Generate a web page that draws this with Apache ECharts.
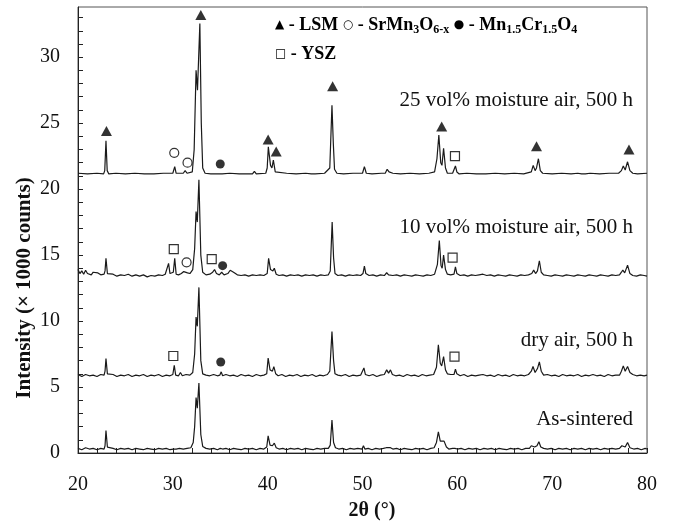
<!DOCTYPE html>
<html>
<head>
<meta charset="utf-8">
<script src="https://cdn.jsdelivr.net/npm/echarts@6/dist/echarts.min.js"></script>
<style>
  html, body { margin: 0; padding: 0; background: #fff; }
  #chart { width: 673px; height: 522px; }
</style>
</head>
<body>
<div id="chart"></div>
<script>
// ======================
// DATA (2θ in degrees, intensity in 1000 counts, traces already offset)
// ======================

const asSintered = [
  [20,0.35],[20.4,0.25],[20.8,0.4],[21.2,0.3],[21.6,0.35],[22,0.25],[22.4,0.35],[22.75,0.3],
  [22.85,0.55],[22.95,1.7],[23.1,0.45],[23.3,0.3],[23.7,0.35],[24.1,0.25],[24.5,0.35],[24.9,0.3],
  [25.3,0.35],[25.7,0.25],[26.1,0.35],[26.5,0.3],[26.9,0.25],[27.3,0.35],[27.7,0.3],[28.1,0.25],
  [28.5,0.35],[28.9,0.3],[29.3,0.35],[29.7,0.25],[30.05,0.3],[30.2,0.4],[30.35,0.3],[30.7,0.35],
  [31.1,0.3],[31.5,0.35],[31.9,0.4],[32.15,0.8],[32.3,2.0],[32.45,4.2],[32.58,3.4],[32.75,5.3],
  [32.95,1.4],[33.15,0.5],[33.5,0.35],[33.9,0.3],[34.3,0.35],[34.7,0.25],[35.0,0.35],[35.1,0.45],
  [35.25,0.3],[35.6,0.35],[36.0,0.25],[36.4,0.35],[36.8,0.3],[37.2,0.25],[37.6,0.35],[38.0,0.3],
  [38.4,0.35],[38.8,0.25],[39.2,0.35],[39.6,0.3],[39.9,0.45],[40.05,1.3],[40.25,0.6],[40.5,0.55],
  [40.7,0.75],[40.9,0.4],[41.2,0.3],[41.6,0.35],[42.0,0.25],[42.4,0.35],[42.8,0.3],[43.2,0.35],
  [43.6,0.25],[44.0,0.35],[44.4,0.3],[44.8,0.25],[45.2,0.35],[45.6,0.3],[46.0,0.35],[46.4,0.35],
  [46.6,0.6],[46.78,2.5],[46.95,0.8],[47.15,0.4],[47.5,0.3],[47.9,0.35],[48.3,0.25],[48.7,0.35],
  [49.1,0.3],[49.5,0.35],[49.95,0.3],[50.1,0.55],[50.25,0.3],[50.6,0.35],[51.0,0.25],[51.4,0.35],
  [51.8,0.3],[52.2,0.35],[52.5,0.4],[52.7,0.45],[52.95,0.4],[53.2,0.3],[53.6,0.35],[54.0,0.25],
  [54.4,0.35],[54.8,0.3],[55.2,0.25],[55.6,0.35],[56.0,0.3],[56.4,0.35],[56.8,0.25],[57.2,0.35],
  [57.55,0.4],[57.8,0.8],[58.0,1.6],[58.2,0.9],[58.4,0.75],[58.6,0.9],[58.85,0.45],[59.1,0.3],
  [59.5,0.35],[59.75,0.35],[59.85,0.45],[60.0,0.3],[60.4,0.35],[60.8,0.25],[61.2,0.35],[61.6,0.3],
  [62.0,0.35],[62.4,0.25],[62.8,0.35],[63.2,0.3],[63.6,0.35],[64.0,0.25],[64.4,0.35],[64.8,0.3],
  [65.2,0.25],[65.6,0.35],[66.0,0.3],[66.4,0.35],[66.8,0.25],[67.2,0.35],[67.6,0.35],[67.8,0.55],
  [67.95,0.7],[68.15,0.45],[68.4,0.55],[68.6,0.85],[68.8,0.45],[69.1,0.35],[69.5,0.3],[69.9,0.35],
  [70.3,0.25],[70.7,0.35],[71.1,0.3],[71.5,0.35],[71.9,0.25],[72.3,0.35],[72.7,0.3],[73.1,0.35],
  [73.5,0.25],[73.9,0.35],[74.3,0.3],[74.7,0.35],[75.1,0.25],[75.5,0.35],[75.9,0.3],[76.3,0.35],
  [76.7,0.3],[77.1,0.35],[77.35,0.55],[77.5,0.65],[77.7,0.45],[77.95,0.8],[78.2,0.4],[78.6,0.3],
  [79.0,0.35],[79.4,0.25],[79.8,0.35],[80,0.3]
];

const dryAir = [
  [20,5.95],[20.4,5.8],[20.8,5.95],[21.2,5.85],[21.6,5.9],[22,5.8],[22.4,5.95],[22.75,5.9],
  [22.85,6.2],[22.95,7.15],[23.1,6.0],[23.3,5.85],[23.7,5.95],[24.1,5.8],[24.5,5.9],[24.9,5.85],
  [25.3,5.95],[25.7,5.8],[26.1,5.9],[26.5,5.85],[26.9,5.95],[27.3,5.8],[27.7,5.9],[28.1,5.85],
  [28.5,5.95],[28.9,5.8],[29.3,5.9],[29.7,5.85],[30.0,5.95],[30.15,6.65],[30.3,5.9],[30.6,5.85],
  [30.8,6.1],[31.0,5.85],[31.4,5.95],[31.8,5.9],[32.1,6.1],[32.3,7.5],[32.45,10.3],[32.58,9.6],
  [32.75,12.55],[32.95,7.0],[33.15,6.0],[33.5,5.9],[33.9,5.85],[34.3,5.95],[34.7,5.85],[34.95,5.9],
  [35.1,6.15],[35.25,5.85],[35.6,5.95],[36.0,5.85],[36.4,5.9],[36.8,5.8],[37.2,5.95],[37.6,5.85],
  [38.0,5.9],[38.4,5.8],[38.8,5.95],[39.2,5.85],[39.6,5.9],[39.9,6.0],[40.05,7.2],[40.25,6.3],
  [40.5,6.2],[40.65,6.55],[40.85,6.0],[41.1,5.85],[41.5,5.95],[41.9,5.8],[42.3,5.9],[42.7,5.85],
  [43.1,5.95],[43.5,5.8],[43.9,5.9],[44.3,5.85],[44.7,5.95],[45.1,5.8],[45.5,5.9],[45.9,5.85],
  [46.3,5.95],[46.55,6.2],[46.78,9.2],[46.95,7.0],[47.1,6.0],[47.4,5.9],[47.8,5.85],[48.2,5.95],
  [48.6,5.8],[49.0,5.9],[49.4,5.85],[49.8,5.9],[50.0,6.0],[50.15,6.45],[50.3,5.95],[50.7,5.85],
  [51.1,5.95],[51.5,5.8],[51.9,5.9],[52.3,5.95],[52.55,6.3],[52.75,6.05],[52.95,6.3],[53.15,5.95],
  [53.5,5.85],[53.9,5.9],[54.3,5.8],[54.7,5.95],[55.1,5.85],[55.5,5.9],[55.9,5.8],[56.3,5.95],
  [56.7,5.85],[57.1,5.9],[57.5,5.95],[57.8,6.5],[58.0,8.2],[58.2,6.8],[58.35,6.6],[58.55,7.3],
  [58.75,6.3],[58.95,6.0],[59.3,5.95],[59.65,5.95],[59.8,6.35],[59.95,6.0],[60.3,5.85],[60.7,5.95],
  [61.1,5.8],[61.5,5.9],[61.9,5.85],[62.3,5.9],[62.7,5.95],[63.1,5.85],[63.5,5.9],[63.9,5.8],
  [64.3,5.95],[64.7,5.85],[65.1,5.9],[65.5,5.8],[65.9,5.95],[66.3,5.85],[66.7,5.9],[67.1,5.85],
  [67.5,5.95],[67.8,6.2],[67.98,6.55],[68.2,6.1],[68.45,6.4],[68.65,6.9],[68.85,6.2],[69.1,5.9],
  [69.5,5.95],[69.9,5.85],[70.3,5.9],[70.7,5.8],[71.1,5.95],[71.5,5.85],[71.9,5.9],[72.3,5.85],
  [72.7,5.95],[73.1,5.8],[73.5,5.9],[73.9,5.85],[74.3,5.95],[74.7,5.85],[75.1,5.9],[75.5,5.8],
  [75.9,5.95],[76.3,5.85],[76.7,5.9],[77.1,5.9],[77.3,6.2],[77.5,6.6],[77.7,6.2],[77.95,6.55],
  [78.2,6.1],[78.5,5.95],[78.9,5.85],[79.3,5.9],[79.7,5.85],[80,5.9]
];

const moist10 = [
  [20,13.9],[20.2,13.6],[20.4,13.8],[20.6,13.55],[20.8,13.85],[21.0,13.6],[21.2,13.75],[21.4,13.5],
  [21.6,13.7],[21.8,13.55],[22.1,13.65],[22.4,13.5],[22.75,13.55],[22.85,13.8],[22.95,14.75],[23.1,13.6],
  [23.3,13.45],[23.7,13.55],[24.1,13.4],[24.5,13.5],[24.9,13.45],[25.3,13.55],[25.7,13.4],[26.1,13.5],
  [26.5,13.4],[26.9,13.5],[27.3,13.35],[27.7,13.45],[28.1,13.4],[28.5,13.5],[28.9,13.45],[29.2,13.55],
  [29.4,13.7],[29.55,14.37],[29.7,13.6],[29.9,13.5],[30.05,13.7],[30.2,14.75],[30.35,13.55],[30.6,13.5],
  [30.9,13.6],[31.15,13.75],[31.35,13.86],[31.55,13.65],[31.8,13.6],[32.1,13.9],[32.3,15.5],[32.45,18.3],
  [32.58,17.5],[32.75,20.7],[32.95,15.0],[33.15,13.7],[33.5,13.5],[33.9,13.55],[34.2,13.7],[34.4,13.9],
  [34.6,13.6],[34.9,13.5],[35.15,13.7],[35.4,13.5],[35.8,13.6],[36.05,13.85],[36.2,14.0],[36.4,13.7],
  [36.8,13.5],[37.2,13.45],[37.6,13.5],[38.0,13.4],[38.4,13.5],[38.8,13.45],[39.2,13.5],[39.6,13.45],
  [39.95,13.6],[40.1,14.75],[40.3,13.9],[40.55,13.8],[40.7,14.0],[40.9,13.55],[41.2,13.45],[41.6,13.5],
  [42.0,13.4],[42.4,13.5],[42.8,13.45],[43.2,13.5],[43.6,13.4],[44.0,13.5],[44.4,13.45],[44.8,13.5],
  [45.2,13.4],[45.6,13.5],[46.0,13.45],[46.4,13.5],[46.6,13.8],[46.8,17.5],[46.95,14.8],[47.1,13.6],
  [47.4,13.45],[47.8,13.5],[48.2,13.4],[48.6,13.5],[49.0,13.45],[49.4,13.5],[49.8,13.45],[50.05,13.6],
  [50.2,14.17],[50.35,13.6],[50.7,13.45],[51.1,13.5],[51.5,13.4],[51.9,13.5],[52.3,13.45],[52.55,13.66],
  [52.75,13.5],[52.95,13.62],[53.2,13.45],[53.6,13.5],[54.0,13.4],[54.4,13.5],[54.8,13.45],[55.2,13.4],
  [55.6,13.5],[56.0,13.45],[56.4,13.4],[56.8,13.5],[57.2,13.45],[57.6,13.55],[57.9,14.3],[58.1,16.1],
  [58.28,14.2],[58.4,14.0],[58.55,15.0],[58.75,13.9],[58.95,13.55],[59.3,13.5],[59.65,13.55],[59.8,14.1],
  [59.95,13.6],[60.3,13.45],[60.7,13.5],[61.1,13.4],[61.5,13.5],[61.9,13.45],[62.3,13.5],[62.7,13.55],
  [62.9,13.6],[63.1,13.45],[63.5,13.5],[63.9,13.4],[64.3,13.5],[64.7,13.45],[65.1,13.4],[65.5,13.5],
  [65.9,13.45],[66.3,13.4],[66.7,13.5],[67.1,13.45],[67.5,13.5],[67.85,13.6],[68.05,13.86],[68.25,13.6],
  [68.45,13.8],[68.65,14.57],[68.85,13.7],[69.1,13.5],[69.5,13.45],[69.9,13.4],[70.3,13.5],[70.7,13.45],
  [71.1,13.4],[71.5,13.5],[71.9,13.45],[72.3,13.4],[72.7,13.5],[72.9,13.6],[73.1,13.45],[73.5,13.4],
  [73.9,13.5],[74.3,13.45],[74.7,13.4],[75.1,13.5],[75.5,13.45],[75.9,13.4],[76.3,13.5],[76.7,13.45],
  [77.1,13.5],[77.3,13.7],[77.45,13.86],[77.65,13.65],[77.95,14.24],[78.2,13.6],[78.5,13.45],[78.9,13.4],
  [79.3,13.5],[79.7,13.45],[80,13.4]
];

const moist25 = [
  [20,21.2],[21,21.15],[22,21.2],[22.7,21.15],[22.82,21.4],[22.95,23.66],[23.08,21.4],[23.25,21.15],
  [24,21.2],[25,21.15],[26,21.2],[27,21.15],[28,21.15],[29,21.2],[30.0,21.2],[30.2,21.7],
  [30.35,21.2],[31.1,21.2],[31.3,21.4],[31.5,21.2],[32.05,21.3],[32.25,23.0],[32.45,29.0],[32.6,27.5],
  [32.85,32.55],[33.0,25.0],[33.15,21.6],[33.4,21.2],[34,21.15],[34.8,21.15],[35.0,21.3],[35.2,21.15],
  [36,21.2],[37,21.15],[38.4,21.15],[38.6,21.35],[38.8,21.15],[39.8,21.2],[39.95,21.6],[40.07,23.2],
  [40.3,21.8],[40.45,21.6],[40.6,22.2],[40.8,21.3],[41,21.15],[42,21.2],[43,21.15],[44,21.2],
  [44.6,21.15],[44.8,21.3],[45,21.15],[46,21.2],[46.55,21.6],[46.78,26.36],[46.92,23.5],[47.05,21.5],
  [47.3,21.2],[48,21.15],[49,21.2],[50.0,21.2],[50.2,21.7],[50.4,21.2],[51,21.15],[52,21.2],
  [52.4,21.2],[52.6,21.5],[52.8,21.3],[53.0,21.45],[53.2,21.2],[54,21.15],[55,21.2],[56,21.15],
  [57,21.2],[57.6,21.3],[57.85,22.3],[58.05,24.1],[58.25,22.0],[58.38,21.8],[58.55,23.1],[58.75,21.6],
  [58.95,21.2],[59.5,21.2],[59.65,21.3],[59.8,21.75],[59.95,21.3],[60.2,21.15],[61,21.2],[62,21.15],
  [62.6,21.15],[62.8,21.3],[63,21.15],[64,21.2],[65,21.15],[66,21.2],[67,21.15],[67.8,21.3],
  [68.0,21.8],[68.2,21.4],[68.35,21.6],[68.55,22.3],[68.75,21.4],[69,21.2],[70,21.15],[71,21.2],
  [72,21.15],[72.7,21.2],[72.9,21.3],[73.1,21.15],[73.3,21.28],[73.5,21.15],[74,21.2],[75,21.15],
  [76,21.2],[77,21.2],[77.3,21.4],[77.5,21.75],[77.7,21.45],[77.95,22.07],[78.2,21.4],[78.5,21.2],
  [79,21.15],[80,21.2]
];

// phase markers [2θ, intensity]
const lsmMarks = [[23.0,24.4],[32.95,33.2],[40.05,23.75],[40.9,22.85],[46.85,27.8],[58.35,24.75],[68.35,23.25],[78.1,23.0]];
const srMnMarks = [[30.15,22.75],[31.55,22.0],[31.45,14.45]];
const mnCrMarks = [[35.0,21.9],[35.25,14.2],[35.05,6.9]];
const yszMarks = [[59.75,22.5],[30.1,15.45],[34.1,14.7],[59.5,14.8],[30.05,7.35],[59.7,7.3]];

const sampleLabels = ['25 vol% moisture air, 500 h', '10 vol% moisture air, 500 h', 'dry air, 500 h', 'As-sintered'];
const xTicks = [20, 30, 40, 50, 60, 70, 80];
const yTicks = [0, 5, 10, 15, 20, 25, 30];

// ======================
// CHART
// ======================

const chart = echarts.init(document.getElementById('chart'), null, { renderer: 'canvas' });

const serif = 'Liberation Serif, Times New Roman, serif';
const sym = 'DejaVu Sans, sans-serif';

const labelY = [100, 227, 340, 419];

function lineSeries(data) {
    return {
        type: 'line',
        data: data,
        symbol: 'none',
        silent: true,
        lineStyle: { color: '#1a1a1a', width: 1.2 },
        z: 3,
    };
}

const legendRich = {
    t: { fontFamily: serif, fontSize: 18, fontWeight: 'bold', color: '#111', lineHeight: 22 },
    s: { fontFamily: serif, fontSize: 12, fontWeight: 'bold', color: '#111', lineHeight: 13, verticalAlign: 'bottom' },
    k: { fontFamily: sym, fontSize: 12, color: '#111', lineHeight: 22 },
};

const option = {
    animation: false,
    grid: {
        left: 78, right: 26, top: 7, bottom: 69,
        show: true, borderColor: '#555', borderWidth: 1,
    },
    xAxis: {
        type: 'value',
        min: 20, max: 80, interval: 2,
        axisLine: { show: true, lineStyle: { color: '#222', width: 1 } },
        axisTick: { show: true, inside: true, length: 5, lineStyle: { color: '#222' } },
        splitLine: { show: false },
        axisLabel: {
            color: '#111', fontFamily: serif, fontSize: 20, margin: 22,
            formatter: v => (xTicks.includes(v) ? String(v) : ''),
        },
    },
    yAxis: {
        type: 'value',
        min: 0, max: 33.8, interval: 1,
        axisLine: { show: true, lineStyle: { color: '#222', width: 1 } },
        axisTick: { show: true, inside: true, length: 5, lineStyle: { color: '#222' } },
        splitLine: { show: false },
        axisLabel: {
            color: '#111', fontFamily: serif, fontSize: 20, margin: 18,
            showMaxLabel: false,
            formatter: v => (yTicks.includes(v) ? String(v) : ''),
        },
    },
    series: [
        lineSeries(asSintered),
        lineSeries(dryAir),
        lineSeries(moist10),
        lineSeries(moist25),
        {
            type: 'scatter', data: lsmMarks, symbol: 'triangle', symbolSize: [11, 10],
            itemStyle: { color: '#000' }, z: 4, silent: true,
        },
        {
            type: 'scatter', data: srMnMarks, symbol: 'circle', symbolSize: 9,
            itemStyle: { color: '#fff', borderColor: '#000', borderWidth: 1.2 }, z: 4, silent: true,
        },
        {
            type: 'scatter', data: mnCrMarks, symbol: 'circle', symbolSize: 9,
            itemStyle: { color: '#000' }, z: 4, silent: true,
        },
        {
            type: 'scatter', data: yszMarks, symbol: 'rect', symbolSize: 9,
            itemStyle: { color: '#fff', borderColor: '#000', borderWidth: 1.2 }, z: 4, silent: true,
        },
    ],
    graphic: [
        {
            type: 'text', x: 275, y: 25, z: 10,
            style: {
                text: '{k|▲}{t| - LSM }{k|○}{t| - SrMn}{s|3}{t|O}{s|6-x}{t| }{k|●}{t| - Mn}{s|1.5}{t|Cr}{s|1.5}{t|O}{s|4}',
                rich: legendRich,
                textAlign: 'left', textVerticalAlign: 'middle',
            },
        },
        {
            type: 'text', x: 275, y: 54, z: 10,
            style: {
                text: '{k|□}{t| - YSZ}',
                rich: legendRich,
                textAlign: 'left', textVerticalAlign: 'middle',
            },
        },
        ...sampleLabels.map((txt, i) => ({
            type: 'text', x: 633, y: labelY[i], z: 10,
            style: {
                text: txt, fill: '#111', font: '21px ' + serif,
                textAlign: 'right', textVerticalAlign: 'middle',
            },
        })),
        {
            type: 'text', x: 25, y: 288, rotation: Math.PI / 2, z: 10,
            style: {
                text: 'Intensity (× 1000 counts)', fill: '#111', font: 'bold 21px ' + serif,
                textAlign: 'center', textVerticalAlign: 'middle',
            },
        },
        {
            type: 'text', x: 372, y: 511, z: 10,
            style: {
                text: '2θ (°)', fill: '#111', font: 'bold 20px ' + serif,
                textAlign: 'center', textVerticalAlign: 'middle',
            },
        },
    ],
};

chart.setOption(option);
</script>
</body>
</html>
